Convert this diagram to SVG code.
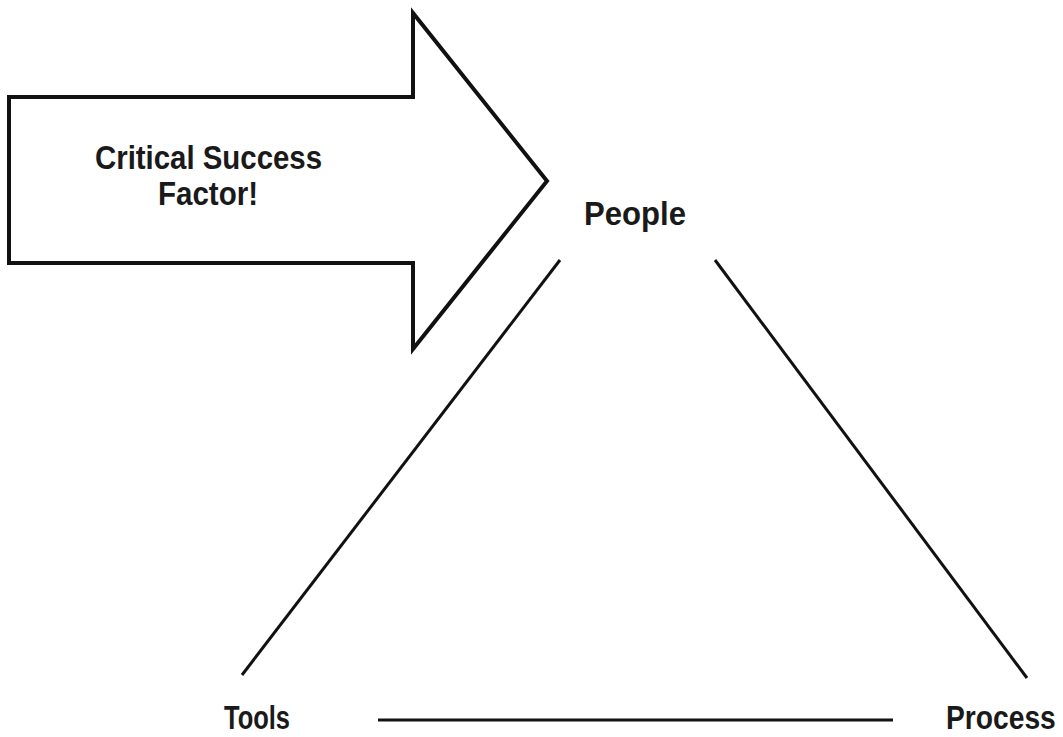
<svg xmlns="http://www.w3.org/2000/svg" width="1063" height="737" viewBox="0 0 1063 737">
<style>
.lbl{font-family:"Liberation Sans Narrow","Liberation Sans",Arial,sans-serif;font-size:33px;fill:#1a1a1a;font-weight:bold}
.edge{stroke:#111;stroke-width:3;fill:none}
</style>
<rect width="1063" height="737" fill="#fff"/>
<g id="arrow">
<polygon points="9,97 413,97 413,13 547,181 413,349 413,263 9,263" fill="#fff" stroke="#111" stroke-width="4" stroke-linejoin="miter"/>
<text class="lbl" x="95" y="169" textLength="227" lengthAdjust="spacingAndGlyphs">Critical Success</text>
<text class="lbl" x="158" y="205" textLength="100" lengthAdjust="spacingAndGlyphs">Factor!</text>
</g>
<g id="people"><text class="lbl" x="584" y="225" textLength="102" lengthAdjust="spacingAndGlyphs">People</text></g>
<g id="tools"><text class="lbl" x="224" y="729" textLength="66" lengthAdjust="spacingAndGlyphs">Tools</text></g>
<g id="process"><text class="lbl" transform="translate(946,729) scale(0.855,1)" x="0" y="0">Process</text></g>
<g id="connectors">
<line class="edge" x1="560" y1="260" x2="242" y2="675"/>
<line class="edge" x1="715" y1="260" x2="1027" y2="678"/>
<line class="edge" x1="378" y1="720" x2="893" y2="720"/>
</g>
</svg>
